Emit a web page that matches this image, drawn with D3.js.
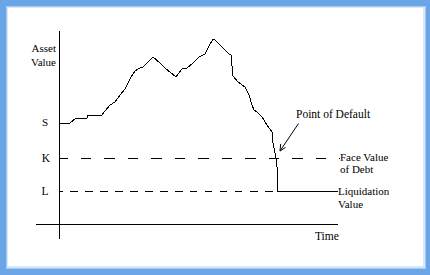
<!DOCTYPE html>
<html><head><meta charset="utf-8">
<script src="https://cdn.jsdelivr.net/npm/d3@7"></script>
<style>html,body{margin:0;padding:0;background:#fff;}svg{display:block;}
.serif{font-family:"Liberation Serif","Times New Roman","DejaVu Serif",serif;}
</style>
</head><body>
<svg id="c" width="430" height="275"></svg>
<script>
// Asset value path (time units, value units)
const time  = [0,11,17,28,29,43,46,51,56,61,66,69,72,76,81,84,89,94,101,106,117,123,128,134,140,146,149,154,156,170,172,174,179,186,190,193,195,198,203,208,213,214,217,218,218,279];
const value = [101,101,106,106,109,109,113,119,122,129,135,141,147,153,156,157,162,167,161,156,147,155,156,161,167,170,176,185,184,170,169,148,142,137,129,119,114,112,107,99,92,81,66,57,33,33];
const levelNames = ["S","K","L"];
const levelValues = [101,66,33];
const defaultTime = 218;

const svg = d3.select("#c");
// frame
svg.append("rect").attr("x",0).attr("y",0).attr("width",430).attr("height",275).attr("fill","#6aa6e6");
svg.append("rect").attr("x",6).attr("y",6).attr("width",420).attr("height",263).attr("fill","#a6cbf2");
svg.append("rect").attr("x",7).attr("y",7).attr("width",418).attr("height",261).attr("fill","#d6e7fa");
svg.append("rect").attr("x",8).attr("y",8).attr("width",415).attr("height",258).attr("fill","#ffffff");

const x = d3.scaleLinear().domain([0,280]).range([59,339]);
const y = d3.scaleLinear().domain([0,193]).range([224,31]);

const g = svg.append("g").attr("fill","none").attr("stroke","#000").attr("stroke-width",1).attr("shape-rendering","crispEdges");
// axes
g.append("line").attr("x1",x(0)).attr("x2",x(0)).attr("y1",y(193)).attr("y2",y(-15));
g.append("line").attr("x1",x(-23)).attr("x2",x(279)).attr("y1",y(0)).attr("y2",y(0));
// K dashed (long)
g.append("line").attr("x1",x(0)).attr("x2",x(281)).attr("y1",y(levelValues[1])).attr("y2",y(levelValues[1]))
  .attr("stroke-dasharray","10.5,13").attr("stroke-dashoffset",2);
// L dashed (short)
g.append("line").attr("x1",x(0)).attr("x2",x(214)).attr("y1",y(levelValues[2])).attr("y2",y(levelValues[2]))
  .attr("stroke-dasharray","7.5,7.5").attr("stroke-dashoffset",4);
// path
const line = d3.line().x((d,i)=>x(time[i])).y((d,i)=>y(value[i]));
g.append("path").attr("d",line(time)).attr("stroke-linejoin","miter");

// arrow
const a = svg.append("g").attr("stroke","#000").attr("fill","none").attr("stroke-width",1);
const ax1=298.5, ay1=123.5, ax2=x(defaultTime)+3, ay2=y(levelValues[1])-7;
a.append("line").attr("x1",ax1).attr("y1",ay1).attr("x2",ax2).attr("y2",ay2);
a.append("path").attr("d",`M${ax2+0.7},${ay2-7} L${ax2},${ay2} L${ax2+5.5},${ay2-3.5}`);

// text
const T = (tx,ty,s,anchor,size)=>svg.append("text").attr("x",tx).attr("y",ty).attr("text-anchor",anchor||"start")
  .attr("class","serif").style("font-size",(size||11)+"px").attr("fill","#000").text(s);
T(56,52,"Asset","end");
T(56,66,"Value","end");
T(45,126,levelNames[0],"middle",11);
T(46,162,levelNames[1],"middle",11.5);
T(45,195,levelNames[2],"middle",11.5);
T(296,118,"Point of Default","start",11.5);
T(340,161,"Face Value");
T(340,173,"of Debt");
T(338,195,"Liquidation");
T(338,208,"Value");
T(315,240,"Time","start",11.5);
</script>
</body></html>
